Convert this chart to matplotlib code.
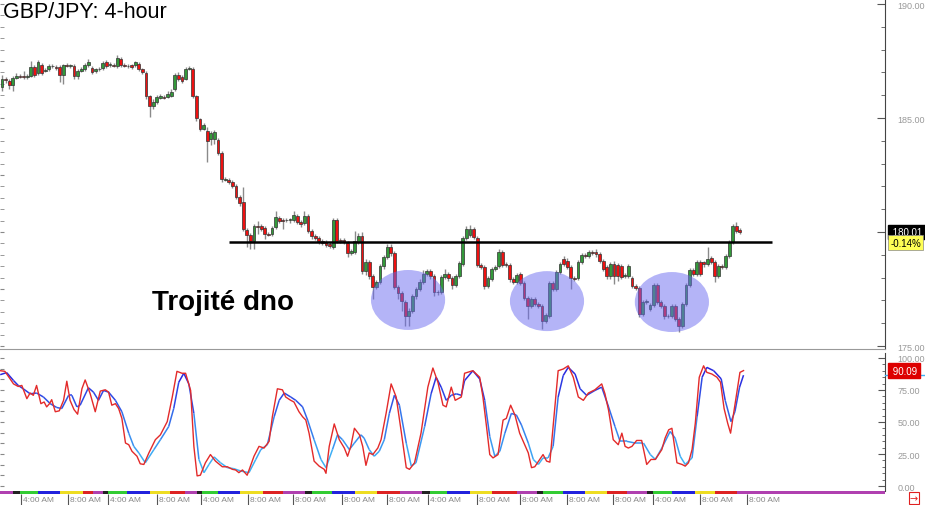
import numpy as np
import matplotlib.pyplot as plt
import matplotlib.transforms as mtransforms
from matplotlib.patches import Ellipse
from matplotlib.collections import LineCollection
from matplotlib.colors import LinearSegmentedColormap, Normalize
from matplotlib.ticker import MultipleLocator, FormatStrFormatter, FixedFormatter

plt.rcParams['font.family'] = ['Liberation Sans', 'DejaVu Sans']

# GBP/JPY 4-hour candles (one per bar)
opens = [
    186.36, 186.71, 186.62, 186.45, 186.75, 186.84, 186.84, 186.80, 186.84, 187.24,
    186.97, 187.32, 187.06, 187.15, 187.28, 187.24, 187.24, 186.89, 187.32, 187.28,
    187.28, 186.84, 187.06, 187.15, 187.32, 187.19, 187.06, 187.15, 187.19, 187.46,
    187.32, 187.32, 187.28, 187.59, 187.32, 187.28, 187.32, 187.32, 187.37, 187.15,
    186.97, 185.96, 185.53, 185.70, 185.88, 185.92, 185.92, 185.96, 186.27, 186.89,
    186.80, 186.71, 187.15, 187.15, 185.96, 184.96, 184.52, 184.43, 184.08, 184.08,
    184.04, 183.46, 182.26, 182.28, 182.19, 182.02, 181.54, 181.32, 180.09, 179.87,
    179.61, 180.26, 180.26, 180.18, 179.91, 179.91, 180.22, 180.61, 180.53, 180.53,
    180.53, 180.53, 180.70, 180.44, 180.39, 180.70, 180.04, 179.82, 179.74, 179.61,
    179.56, 179.47, 179.34, 180.53, 179.65, 179.65, 179.52, 179.08, 179.12, 179.56,
    179.82, 178.29, 178.68, 178.07, 177.59, 177.81, 178.51, 178.90, 179.34, 179.08,
    177.59, 177.32, 176.93, 176.32, 176.54, 177.19, 177.50, 177.81, 178.16, 178.29,
    178.07, 177.37, 177.37, 178.03, 178.16, 177.98, 177.68, 178.07, 178.60, 179.74,
    179.87, 180.13, 179.74, 178.55, 178.46, 177.63, 177.94, 178.38, 178.51, 179.12,
    178.60, 178.55, 177.94, 177.81, 178.16, 177.76, 177.11, 176.75, 177.06, 176.84,
    176.75, 176.10, 176.32, 177.76, 177.50, 178.25, 178.82, 178.73, 178.46, 177.98,
    177.98, 178.68, 178.99, 178.95, 179.12, 179.12, 179.04, 178.73, 178.46, 178.07,
    178.60, 178.55, 178.51, 178.07, 178.07, 177.98, 177.63, 177.54, 176.40, 176.93,
    176.62, 176.80, 177.68, 176.93, 176.75, 176.32, 176.32, 176.75, 176.18, 175.88,
    176.84, 177.68, 178.33, 178.16, 178.68, 178.68, 178.60, 178.86, 178.68, 178.07,
    178.51, 178.46, 178.95, 179.56, 180.26, 180.09,
]
highs = [
    186.89, 186.80, 186.71, 186.84, 186.97, 186.93, 187.06, 186.93, 187.50, 187.32,
    187.54, 187.41, 187.19, 187.37, 187.37, 187.32, 187.32, 187.37, 187.41, 187.37,
    187.37, 187.15, 187.24, 187.41, 187.59, 187.28, 187.19, 187.24, 187.50, 187.54,
    187.46, 187.41, 187.76, 187.68, 187.41, 187.37, 187.37, 187.50, 187.46, 187.19,
    187.06, 186.01, 185.83, 186.01, 186.05, 186.01, 186.18, 186.27, 186.97, 187.02,
    186.89, 187.24, 187.28, 187.24, 186.01, 185.00, 184.78, 184.61, 184.43, 184.48,
    184.12, 183.55, 182.41, 182.37, 182.28, 182.11, 181.62, 181.97, 180.18, 179.96,
    180.35, 180.48, 180.35, 180.26, 180.00, 180.26, 180.92, 180.70, 180.61, 180.61,
    180.61, 180.92, 180.79, 180.53, 180.92, 180.79, 180.13, 179.91, 179.82, 179.69,
    179.65, 179.56, 180.61, 180.61, 179.74, 179.74, 179.61, 179.25, 180.04, 179.96,
    180.00, 178.82, 178.77, 178.16, 177.89, 178.60, 178.99, 179.47, 179.47, 179.17,
    177.68, 177.41, 177.02, 176.67, 177.28, 177.59, 177.94, 178.33, 178.38, 178.38,
    178.16, 177.46, 178.11, 178.38, 178.25, 178.07, 178.16, 178.73, 179.82, 180.26,
    180.31, 180.22, 179.82, 178.64, 178.55, 178.07, 178.46, 178.55, 179.25, 179.21,
    178.68, 178.64, 178.03, 178.20, 178.25, 177.85, 177.19, 177.15, 177.15, 176.93,
    176.84, 176.45, 177.85, 177.85, 178.33, 178.68, 178.95, 178.86, 178.55, 178.07,
    178.77, 179.08, 179.08, 179.21, 179.21, 179.25, 179.12, 178.82, 178.55, 178.68,
    178.73, 178.64, 178.60, 178.20, 178.60, 178.07, 177.72, 177.63, 177.02, 177.06,
    176.89, 177.76, 177.76, 177.02, 176.84, 176.40, 176.84, 176.84, 176.27, 176.93,
    177.76, 178.42, 178.42, 178.77, 178.77, 178.73, 179.34, 178.95, 178.77, 178.60,
    178.60, 179.04, 179.65, 180.35, 180.44, 180.18,
]
lows = [
    186.18, 186.54, 186.27, 186.18, 186.71, 186.75, 186.71, 186.71, 186.80, 186.80,
    186.89, 186.89, 187.02, 187.06, 187.19, 187.11, 186.58, 186.49, 187.24, 187.19,
    186.71, 186.71, 187.02, 187.06, 187.24, 186.93, 186.97, 187.06, 187.11, 187.19,
    187.24, 187.24, 187.19, 187.24, 187.24, 187.19, 187.15, 187.24, 187.06, 186.93,
    185.83, 185.04, 185.39, 185.61, 185.83, 185.83, 185.88, 185.92, 186.18, 186.62,
    186.54, 186.67, 187.11, 185.88, 184.87, 184.43, 184.48, 183.07, 183.82, 183.86,
    183.38, 182.19, 182.24, 182.11, 181.93, 181.45, 181.14, 180.04, 179.34, 179.25,
    179.25, 179.91, 180.04, 179.69, 179.82, 179.82, 180.13, 180.39, 180.13, 180.44,
    180.39, 180.44, 180.35, 180.22, 180.31, 179.96, 179.69, 179.65, 179.47, 179.43,
    179.34, 179.30, 179.25, 179.52, 179.52, 179.47, 178.90, 178.99, 179.04, 179.47,
    178.16, 178.11, 177.94, 177.06, 177.50, 177.72, 178.38, 178.82, 178.95, 177.50,
    177.06, 176.54, 175.88, 175.88, 176.45, 177.06, 177.41, 177.72, 178.07, 177.94,
    177.19, 177.24, 177.28, 177.94, 177.85, 177.50, 177.59, 177.98, 178.51, 179.65,
    179.78, 179.69, 178.46, 178.38, 177.50, 177.54, 177.85, 178.29, 178.42, 178.46,
    178.46, 177.81, 177.72, 177.72, 177.68, 177.02, 176.18, 176.67, 176.75, 176.67,
    175.75, 176.01, 176.23, 177.41, 177.41, 178.16, 178.51, 178.38, 177.50, 177.85,
    177.89, 178.60, 178.86, 178.86, 178.99, 178.90, 178.64, 178.29, 177.94, 177.94,
    177.72, 177.85, 177.94, 177.98, 177.98, 177.54, 177.46, 176.27, 176.32, 176.84,
    176.54, 176.71, 176.84, 176.67, 176.18, 176.23, 176.23, 176.10, 175.61, 175.79,
    176.75, 177.59, 178.07, 178.07, 178.07, 178.46, 178.51, 178.60, 177.81, 177.98,
    178.38, 178.38, 178.86, 179.47, 179.96, 179.91,
]
closes = [
    186.71, 186.67, 186.45, 186.75, 186.84, 186.82, 186.80, 186.84, 187.24, 186.89,
    187.46, 186.97, 187.11, 187.28, 187.26, 187.19, 186.89, 187.32, 187.30, 187.32,
    186.84, 187.06, 187.15, 187.32, 187.46, 187.02, 187.15, 187.13, 187.41, 187.28,
    187.37, 187.30, 187.63, 187.32, 187.30, 187.26, 187.24, 187.46, 187.15, 187.02,
    185.96, 185.53, 185.70, 185.92, 185.96, 185.90, 186.05, 186.14, 186.89, 186.71,
    186.62, 187.15, 187.19, 185.96, 185.00, 184.52, 184.69, 183.99, 184.34, 184.39,
    183.46, 182.32, 182.32, 182.19, 182.02, 181.54, 181.27, 180.13, 179.87, 179.61,
    180.26, 180.24, 180.13, 179.91, 179.89, 180.18, 180.66, 180.48, 180.48, 180.51,
    180.55, 180.75, 180.44, 180.35, 180.70, 180.04, 179.82, 179.74, 179.61, 179.52,
    179.43, 179.39, 180.53, 179.61, 179.61, 179.56, 179.08, 179.17, 179.61, 179.82,
    178.29, 178.68, 178.07, 177.59, 177.81, 178.51, 178.90, 179.34, 179.08, 177.59,
    177.32, 176.97, 176.32, 176.54, 177.19, 177.50, 177.81, 178.16, 178.29, 178.07,
    177.37, 177.35, 178.03, 178.16, 177.98, 177.68, 178.07, 178.64, 179.74, 180.13,
    180.13, 179.78, 178.55, 178.46, 177.63, 177.98, 178.38, 178.46, 179.12, 178.55,
    178.55, 177.94, 177.81, 178.11, 177.76, 177.11, 176.75, 177.06, 176.84, 176.75,
    176.10, 176.36, 177.76, 177.50, 178.25, 178.60, 178.60, 178.46, 177.98, 177.96,
    178.68, 178.99, 178.95, 179.12, 179.10, 179.04, 178.73, 178.38, 178.07, 178.60,
    178.07, 178.07, 178.03, 178.11, 178.51, 177.63, 177.54, 176.40, 176.93, 176.97,
    176.80, 177.68, 176.93, 176.75, 176.32, 176.30, 176.75, 176.18, 175.88, 176.84,
    177.68, 178.33, 178.16, 178.68, 178.16, 178.60, 178.82, 178.68, 178.07, 178.51,
    178.46, 178.95, 179.56, 180.26, 180.04, 180.01,
]
change_pct = "-0.14%"
neckline = 179.56          # horizontal resistance line
neck_from, neck_to = 63, 214

# stochastic oscillator, (bar, value) pairs
stoch_k = [
    (-0.5, 90.0), (0.8, 89.5), (3.2, 79.7), (4.5, 77.7), (5.5, 78.5), (6.9, 68.2), (7.8, 72.6),
    (8.7, 70.8), (9.6, 78.5), (10.8, 64.3), (11.7, 65.6), (12.4, 61.8), (13.2, 64.3), (13.8, 67.4),
    (14.8, 58.0), (15.9, 58.7), (17.1, 66.9), (18.0, 81.8), (18.9, 66.9), (20.0, 59.7), (21.0, 56.1),
    (22.2, 75.9), (23.1, 82.8), (24.5, 72.0), (25.9, 58.0), (27.3, 74.1), (28.7, 75.1), (29.6, 73.3),
    (30.5, 63.1), (31.5, 64.3), (32.4, 60.5), (33.3, 52.8), (34.3, 33.6), (35.2, 32.3), (36.1, 27.2),
    (37.5, 23.3), (38.4, 17.4), (39.4, 16.9), (40.8, 25.9), (42.6, 36.2), (44.0, 40.0), (45.9, 50.3),
    (47.3, 69.5), (48.6, 89.5), (50.0, 88.0), (51.0, 88.0), (52.4, 74.6), (53.3, 31.0), (54.2, 8.0),
    (55.1, 8.5), (56.5, 18.2), (57.9, 24.6), (59.3, 19.5), (61.2, 15.1), (62.6, 15.1), (64.0, 13.1),
    (64.9, 12.6), (65.8, 10.5), (66.8, 12.6), (68.1, 8.5), (70.0, 23.3), (71.4, 31.0), (72.8, 29.7),
    (74.2, 34.9), (75.1, 54.1), (76.5, 75.9), (77.9, 75.1), (78.8, 69.5), (80.2, 66.9), (81.1, 65.6),
    (82.5, 58.0), (83.5, 54.1), (84.4, 51.5), (85.3, 41.3), (86.7, 19.5), (88.1, 15.6), (89.5, 13.1),
    (90.0, 10.0), (90.9, 31.0), (92.3, 48.5), (93.7, 36.2), (95.1, 29.7), (96.0, 23.3), (96.9, 31.0),
    (97.9, 45.1), (99.3, 40.0), (100.2, 31.0), (101.1, 16.2), (102.0, 25.9), (103.0, 24.6),
    (104.4, 29.7), (105.3, 36.2), (106.7, 56.7), (108.1, 79.7), (109.5, 69.5), (110.9, 42.6),
    (112.3, 14.4), (113.2, 13.1), (114.6, 18.2), (116.4, 41.3), (118.3, 77.2), (119.7, 92.1),
    (121.1, 81.0), (122.5, 63.1), (123.4, 61.8), (124.8, 77.2), (125.9, 66.9), (127.6, 69.5),
    (128.5, 88.0), (130.8, 90.0), (132.7, 84.9), (133.6, 69.5), (134.6, 46.4), (135.5, 24.6),
    (136.4, 22.0), (137.8, 24.6), (139.2, 51.5), (140.1, 52.8), (141.3, 63.1), (142.5, 55.4),
    (143.8, 41.3), (145.2, 32.3), (146.2, 25.9), (147.1, 14.4), (148.0, 15.1), (149.4, 20.8),
    (150.3, 24.6), (151.3, 19.5), (152.2, 18.7), (153.1, 46.4), (154.5, 90.0), (155.9, 91.3),
    (157.3, 93.8), (158.7, 84.9), (160.1, 69.5), (161.5, 66.9), (162.9, 72.6), (164.7, 75.1),
    (166.6, 79.7), (167.5, 72.0), (168.5, 59.2), (169.8, 36.2), (171.2, 32.3), (172.2, 41.3),
    (173.1, 31.0), (174.0, 29.7), (175.0, 31.0), (176.3, 35.6), (177.7, 35.6), (179.1, 16.9),
    (180.3, 20.8), (181.5, 20.8), (182.4, 24.6), (183.3, 28.5), (184.2, 37.4), (185.2, 43.9),
    (186.1, 45.1), (187.5, 18.2), (188.9, 16.9), (189.8, 15.6), (190.7, 18.2), (191.7, 28.5),
    (192.6, 49.0), (193.7, 84.9), (194.9, 93.8), (195.8, 88.7), (197.2, 87.4), (198.6, 84.9),
    (199.6, 81.0), (200.6, 60.5), (201.6, 49.0), (202.4, 41.3), (203.6, 63.1), (205.0, 88.7),
    (206.0, 90.09),
]
stoch_d = [
    (-0.5, 86.9), (1.3, 88.5), (3.2, 82.3), (4.5, 78.5), (5.9, 75.9), (7.8, 72.0), (9.6, 72.6),
    (11.5, 69.5), (13.4, 64.3), (15.2, 61.3), (16.6, 60.5), (18.5, 70.8), (19.4, 70.8), (20.8, 61.8),
    (21.7, 63.1), (24.0, 76.7), (25.4, 73.3), (26.8, 66.9), (28.2, 74.6), (29.6, 73.3), (31.5, 66.9),
    (33.3, 58.0), (35.2, 41.3), (36.6, 31.0), (38.0, 25.9), (39.8, 18.2), (42.2, 28.5), (44.0, 36.2),
    (46.3, 46.4), (47.7, 60.5), (49.1, 81.0), (50.5, 88.0), (51.9, 79.7), (53.3, 56.7), (54.7, 20.8),
    (56.1, 10.5), (57.5, 16.9), (58.9, 22.8), (60.7, 18.2), (62.6, 14.4), (64.4, 13.6), (66.3, 11.8),
    (68.6, 10.5), (70.5, 20.8), (71.9, 28.5), (73.7, 32.3), (75.6, 54.1), (77.0, 66.9), (78.4, 72.6),
    (80.2, 69.5), (81.6, 66.9), (83.5, 61.8), (84.9, 51.5), (86.7, 36.2), (88.6, 20.8), (90.0, 14.4),
    (91.8, 28.5), (93.2, 40.0), (94.6, 36.2), (96.5, 28.5), (97.9, 33.6), (99.7, 40.0), (100.6, 37.4),
    (102.0, 28.5), (103.4, 23.3), (104.8, 27.2), (106.2, 36.2), (107.6, 56.7), (109.0, 70.8),
    (110.4, 63.1), (112.3, 33.6), (113.7, 15.6), (115.0, 18.2), (117.4, 46.4), (119.2, 72.0),
    (120.6, 84.9), (122.0, 77.2), (123.4, 66.9), (124.8, 70.8), (126.2, 72.0), (127.6, 70.8),
    (128.5, 82.3), (130.8, 90.0), (132.7, 83.6), (134.1, 66.9), (135.5, 38.7), (136.9, 23.3),
    (138.3, 27.2), (139.7, 41.3), (141.5, 56.7), (142.9, 55.4), (144.3, 47.7), (146.2, 33.6),
    (147.6, 20.8), (149.0, 16.9), (150.3, 22.0), (151.7, 22.0), (153.1, 31.0), (154.5, 69.5),
    (155.9, 86.2), (157.3, 92.6), (159.2, 87.4), (160.6, 75.9), (162.4, 70.8), (164.7, 74.6),
    (166.6, 77.2), (168.5, 61.8), (170.3, 46.4), (171.7, 34.9), (173.6, 34.9), (175.9, 33.6),
    (178.2, 33.6), (180.1, 24.6), (181.5, 20.8), (183.3, 29.7), (185.6, 42.6), (187.0, 37.4),
    (188.4, 23.3), (189.8, 16.9), (191.7, 22.0), (193.1, 54.1), (194.5, 84.9), (195.8, 92.6),
    (197.7, 90.0), (199.8, 83.6), (200.9, 66.9), (202.5, 50.3), (203.6, 58.0), (204.9, 77.2),
    (206.0, 86.5),
]

# time strip: session colour blocks (start bar) and time labels (bar, text)
strip_starts = [-0.56, 3.1, 5.0, 10.0, 16.1, 22.5, 25.3, 28.1, 29.4, 34.7, 41.1, 46.7, 50.8,
                54.2, 55.6, 60.0, 66.1, 72.5, 78.1, 84.2, 86.1, 91.7, 98.1, 104.2, 110.6,
                116.7, 118.9, 123.6, 130.0, 136.1, 143.1, 148.6, 150.3, 155.8, 161.9, 168.1,
                173.6, 179.2, 180.8, 186.1, 192.5, 198.1, 204.2]
strip_colors = ['#b040b0'] + ['#222222', '#33cc33', '#2222dd', '#eedd22', '#dd2222', '#b040b0'] * 7
time_bars = [5.3, 18.3, 29.4, 43.1, 55.3, 68.3, 80.8, 94.4, 106.9, 118.3, 131.9, 143.9,
             156.9, 169.7, 180.8, 193.9, 206.9]
time_labels = ['4:00 AM', '8:00 AM', '4:00 AM', '8:00 AM', '4:00 AM', '8:00 AM', '8:00 AM',
               '8:00 AM', '8:00 AM', '4:00 AM', '8:00 AM', '8:00 AM', '8:00 AM', '8:00 AM',
               '4:00 AM', '8:00 AM', '8:00 AM']

o = np.array(opens); h = np.array(highs); l = np.array(lows); c = np.array(closes)
bars = np.arange(len(c))
up = c >= o

W, H = 925, 506
fig = plt.figure(figsize=(W / 100, H / 100), dpi=100)
ax = fig.add_axes([0, 1 - 350 / H, 885 / W, 350 / H])
osc = fig.add_axes([0, 14 / H, 885 / W, 138 / H], sharex=ax)
tax = fig.add_axes([0, 0, 885 / W, 14 / H], sharex=ax)

# candles
ax.vlines(bars, l, h, color='#8a8a8a', lw=1, zorder=1)
body_lo = np.minimum(o, c)
body_h = np.maximum(np.abs(c - o), 0.03)
ax.bar(bars, body_h, 0.8, bottom=body_lo, color=np.where(up, '#33993a', '#ee1111'),
       edgecolor='#333333', linewidth=0.5, zorder=2)
ax.hlines(neckline, neck_from, neck_to, color='black', lw=1.8, zorder=3)

# triple-bottom highlights
for cx, cy in [(112.8, 177.02), (151.4, 176.97), (186.1, 176.93)]:
    ax.add_patch(Ellipse((cx, cy), 20.6, 2.63, facecolor='#6a6af0', alpha=0.5,
                         edgecolor='none', zorder=4))
ax.text(0.172, 0.134, 'Trojité dno', transform=ax.transAxes, fontsize=20,
        fontweight='bold', va='center', ha='left')
fig.text(3 / W, 1 - 12 / H, 'GBP/JPY: 4-hour', fontsize=15.5, va='center', ha='left')

ax.set_xlim(-0.56, 245.3)
ax.set_ylim(174.87, 190.22)
for s in ['top', 'left']:
    ax.spines[s].set_visible(False)
ax.spines['right'].set_color('#444444')
ax.spines['bottom'].set_color('#999999')
ax.tick_params(axis='x', bottom=False, labelbottom=False)
ax.yaxis.tick_right()
ax.set_yticks([175, 180, 185, 190])
ax.yaxis.set_minor_locator(MultipleLocator(1))
ax.yaxis.set_major_formatter(FixedFormatter(['175.00', '', '185.00', '190.00']))
ax.tick_params(axis='y', which='major', direction='in', length=6, color='#555555',
               labelsize=6.5, labelcolor='#999999', pad=9)
ax.tick_params(axis='y', which='minor', direction='in', length=3, color='#555555')
sec = ax.secondary_yaxis('left')
sec.yaxis.set_major_locator(MultipleLocator(2.5))
sec.yaxis.set_minor_locator(MultipleLocator(0.5))
sec.tick_params(which='both', direction='in', length=3, color='#888888', labelleft=False)
for s in sec.spines.values():
    s.set_visible(False)

# last price boxes
blend = mtransforms.blended_transform_factory(ax.transAxes, ax.transData)
ax.text(1.006, c[-1], f' {c[-1]:.2f}', transform=blend, color='white', fontsize=7,
        va='center', ha='left', zorder=10,
        bbox=dict(boxstyle='square,pad=0.22', fc='black', ec='black'))
ax.text(1.006, c[-1] - 0.47, change_pct, transform=blend, color='black', fontsize=7,
        va='center', ha='left', zorder=10,
        bbox=dict(boxstyle='square,pad=0.22', fc='#ffff55', ec='#888888', lw=0.5))

# stochastic
kx, kv = np.array(stoch_k).T
dx, dv = np.array(stoch_d).T
pts = np.column_stack([dx, dv]).reshape(-1, 1, 2)
segs = np.concatenate([pts[:-1], pts[1:]], axis=1)
cmap = LinearSegmentedColormap.from_list('stoch', ['#3fb2f5', '#2a2ae0'])
lc = LineCollection(segs, cmap=cmap, norm=Normalize(20, 85), linewidths=1.1, zorder=2)
lc.set_array((dv[:-1] + dv[1:]) / 2)
osc.add_collection(lc)
osc.plot(kx, kv, color='#e32a2a', lw=1.0, zorder=3)
osc.set_ylim(-3.8, 103.8)
for s in ['top', 'left', 'bottom']:
    osc.spines[s].set_visible(False)
osc.spines['right'].set_color('#444444')
osc.tick_params(axis='x', bottom=False, labelbottom=False)
osc.yaxis.tick_right()
osc.set_yticks([0, 25, 50, 75, 100])
osc.yaxis.set_minor_locator(MultipleLocator(5))
osc.yaxis.set_major_formatter(FormatStrFormatter('%.2f'))
osc.tick_params(axis='y', which='major', direction='in', length=5, color='#555555',
                labelsize=6.5, labelcolor='#999999', pad=9)
osc.tick_params(axis='y', which='minor', direction='in', length=2.5, color='#555555')
sec2 = osc.secondary_yaxis('left')
sec2.yaxis.set_major_locator(MultipleLocator(100 / 12))
sec2.tick_params(direction='in', length=3, color='#888888', labelleft=False)
for s in sec2.spines.values():
    s.set_visible(False)
oblend = mtransforms.blended_transform_factory(osc.transAxes, osc.transData)
osc.plot([1.0, 1.05], [dv[-1], dv[-1]], transform=oblend, color='#3fb2f5', lw=1,
         clip_on=False, zorder=9)
osc.text(1.006, kv[-1], f' {kv[-1]:.2f}', transform=oblend, color='white', fontsize=7,
         va='center', ha='left', zorder=10,
         bbox=dict(boxstyle='square,pad=0.22', fc='#dd0000', ec='#dd0000'))

# time strip
ends = strip_starts[1:] + [245.3]
for x0, x1, col in zip(strip_starts, ends, strip_colors):
    tax.broken_barh([(x0, x1 - x0)], (0.8, 0.2), facecolors=col)
tax.vlines(time_bars, 0.0, 0.78, color='#555555', lw=0.8)
for xb, lab in zip(time_bars, time_labels):
    tax.text(xb + 0.6, 0.36, lab, fontsize=6, color='#888888', va='center', ha='left')
tax.set_ylim(0, 1)
tax.axis('off')

fig.text(0.988, 0.013, '→', color='#e02020', fontsize=7, ha='center', va='center',
         family='DejaVu Sans', bbox=dict(boxstyle='square,pad=0.1', fc='white', ec='#e02020', lw=0.8))

fig.savefig('out.png', dpi=100)
